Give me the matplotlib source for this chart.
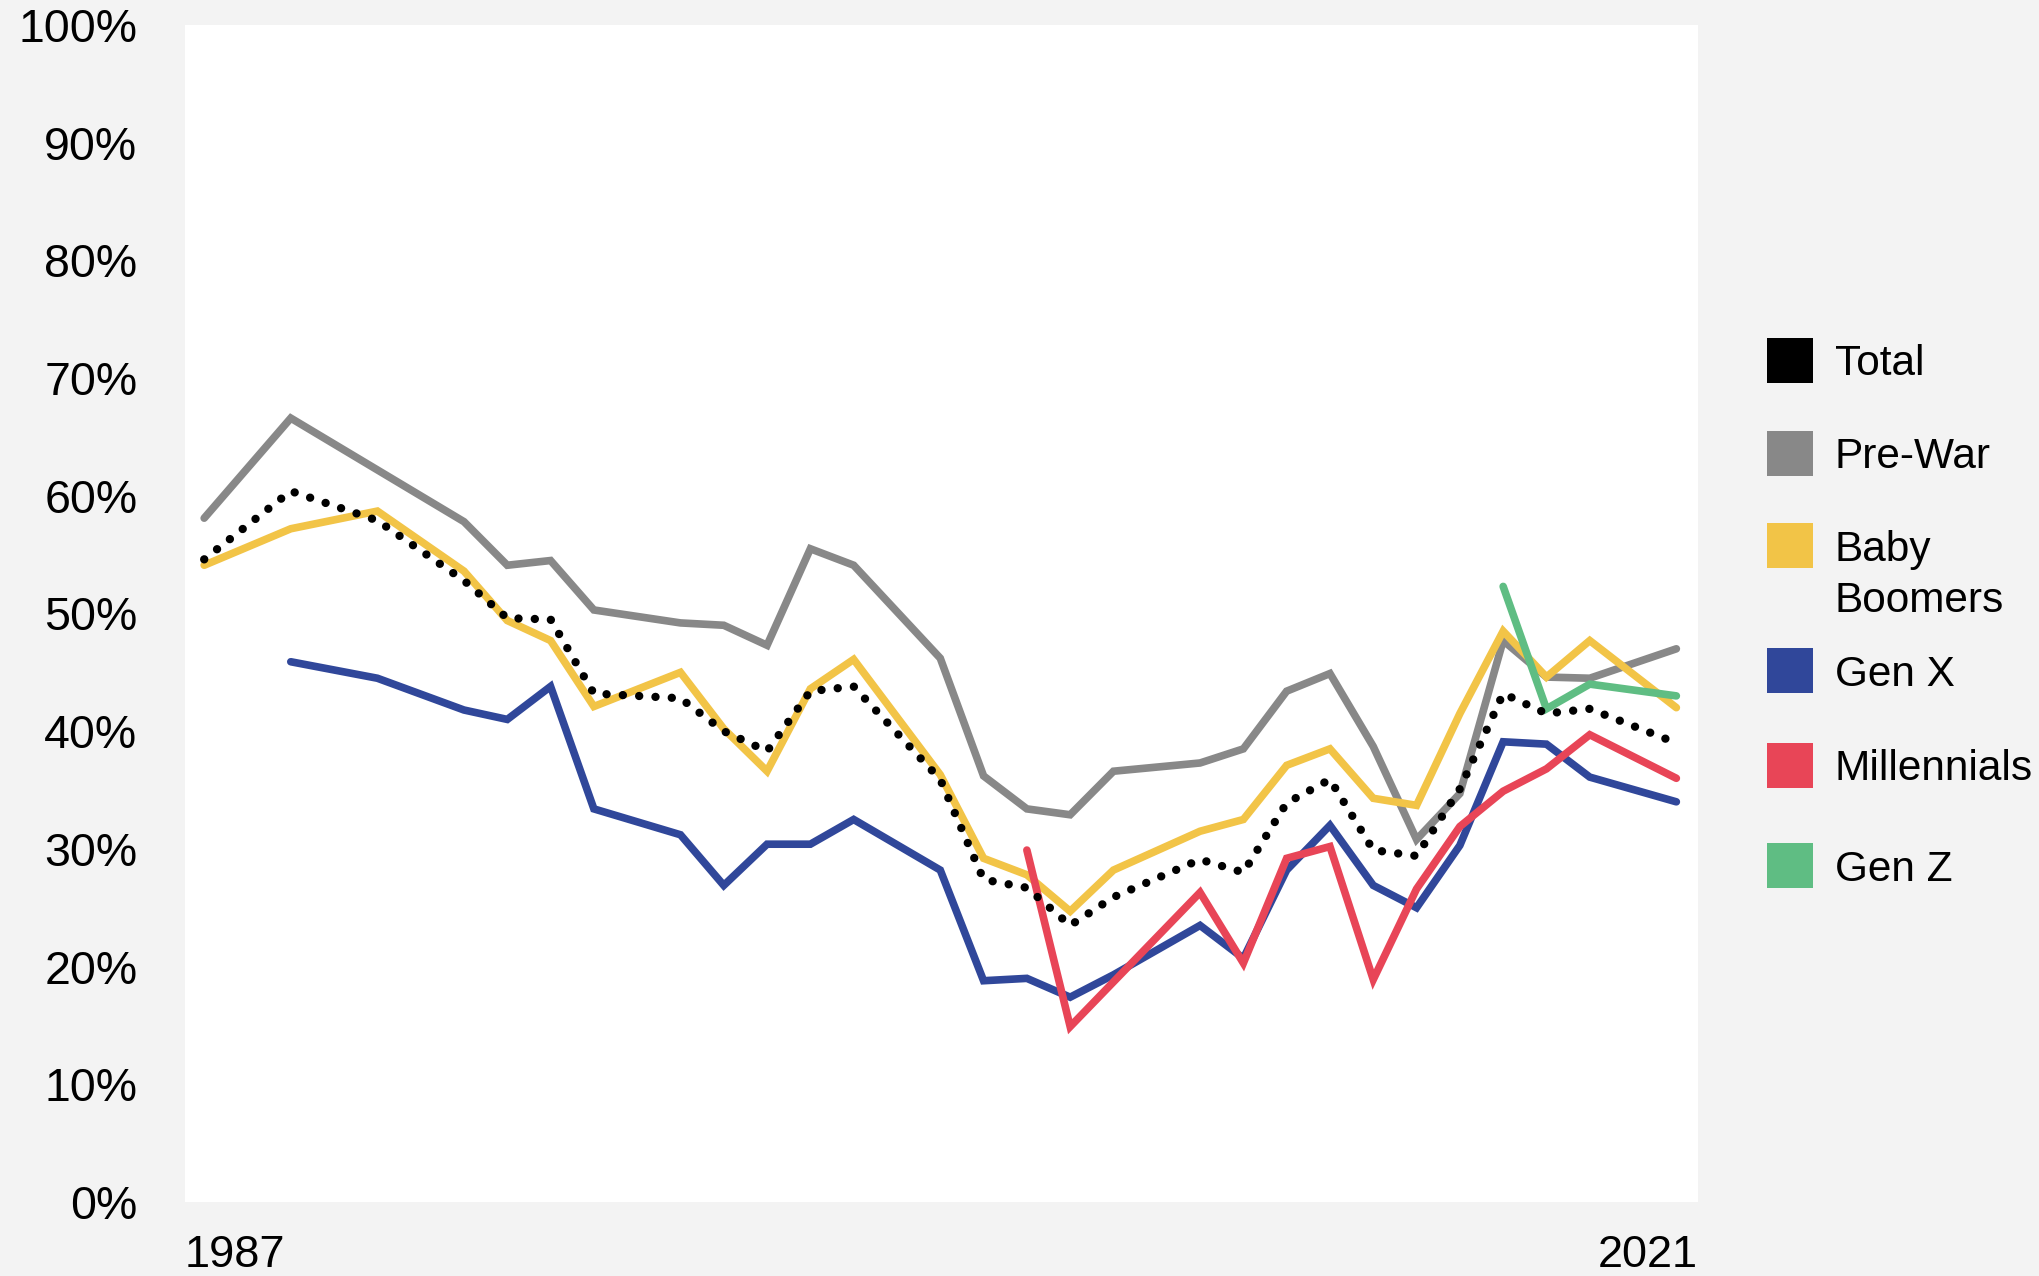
import numpy as np
import matplotlib
matplotlib.use("Agg")
from matplotlib import pyplot as plt
from matplotlib.patches import Rectangle

plt.rcParams['font.family'] = ['Liberation Sans', 'DejaVu Sans']

# survey years with a vertex in the chart
years = [1987, 1989, 1991, 1993, 1994, 1995, 1996, 1998, 1999, 2000,
         2001, 2002, 2004, 2005, 2006, 2007, 2008, 2010, 2011, 2012,
         2013, 2014, 2015, 2016, 2017, 2018, 2019, 2021]

total = [54.6, 60.4, 57.9, 52.8, 49.6, 49.5, 43.2, 42.8, 40.0, 38.3,
         43.4, 43.8, 35.9, 27.4, 26.7, 23.5, 25.9, 29.1, 28.0, 33.9,
         35.9, 29.9, 29.4, 35.1, 43.2, 41.5, 41.9, 39.0]
pre_war = [58.1, 66.6, 62.2, 57.8, 54.1, 54.5, 50.3, 49.2, 49.0, 47.3,
           55.5, 54.1, 46.2, 36.2, 33.4, 32.9, 36.6, 37.3, 38.5, 43.4,
           44.9, 38.7, 30.8, 34.7, 47.7, 44.6, 44.5, 47.0]
boomers = [54.1, 57.2, 58.7, 53.6, 49.4, 47.7, 42.1, 45.0, 40.2, 36.6,
           43.6, 46.1, 36.3, 29.2, 27.8, 24.7, 28.2, 31.5, 32.5, 37.1,
           38.5, 34.3, 33.7, 41.5, 48.5, 44.6, 47.7, 42.0]
gen_x = [None, 45.9, 44.5, 41.8, 41.0, 43.8, 33.4, 31.2, 26.9, 30.4,
         30.4, 32.5, 28.2, 18.8, 19.0, 17.4, 19.3, 23.5, 20.7, 28.2,
         32.0, 26.9, 25.0, 30.3, 39.1, 38.9, 36.1, 34.0]
millennials = [None] * 14 + [29.9, 14.9, 18.7, 26.3, 20.3, 29.2,
                             30.2, 18.9, 26.6, 31.9, 34.9, 36.8, 39.7, 36.0]
gen_z = [None] * 24 + [52.3, 41.9, 44.0, 43.0]

labels = ["Total", "Pre-War", "Baby\nBoomers", "Gen X", "Millennials", "Gen Z"]
colors = ["#000000", "#888888", "#F2C447", "#30479A", "#E84557", "#5FBD83"]

def arr(v):
    return np.array([np.nan if x is None else x for x in v], dtype=float)

fig = plt.figure(figsize=(20.39, 12.76), dpi=100, facecolor="#F3F3F3")
ax = fig.add_axes([184.7 / 2039, 1 - 1202 / 1276, (1698 - 184.7) / 2039, (1202 - 25) / 1276])
ax.set_facecolor("white")

lw = 5.5
for ser, col in [(pre_war, colors[1]), (boomers, colors[2]), (gen_x, colors[3]),
                 (millennials, colors[4]), (gen_z, colors[5])]:
    ax.plot(years, arr(ser), color=col, lw=lw, solid_joinstyle="miter", solid_capstyle="round")
ax.plot(years, arr(total), color=colors[0], lw=6.0, linestyle=(0, (0.01, 1.95)),
        dash_capstyle="round")

x0, x1 = 1986.55, 2021.5
ax.set_xlim(x0, x1)
ax.set_ylim(0, 100)
for s in ax.spines.values():
    s.set_visible(False)

ax.set_yticks(range(0, 101, 10))
ax.set_yticklabels([f"{v}%" for v in range(0, 101, 10)])
ax.tick_params(axis="y", length=0, pad=34, labelsize=33.5)
ax.set_xticks([x0, x1])
ax.set_xticklabels(["1987", "2021"])
ax.tick_params(axis="x", length=0, pad=24, labelsize=32.5)
xl = ax.get_xticklabels()
xl[0].set_ha("left")
xl[1].set_ha("right")

# legend drawn by hand: squares + labels
centers = [360, 453, 545.7, 670.7, 765, 865.7]
for lab, col, yc in zip(labels, colors, centers):
    fig.add_artist(Rectangle((1767 / 2039, 1 - (yc + 22.5) / 1276), 46 / 2039, 45 / 1276,
                             transform=fig.transFigure, facecolor=col, edgecolor="none"))
    if "\n" in lab:
        fig.text(1835 / 2039, 1 - (yc + 30) / 1276, lab, fontsize=30.5, va="center",
                 ha="left", linespacing=1.35)
    else:
        fig.text(1835 / 2039, 1 - (yc + 4) / 1276, lab, fontsize=30.5, va="center", ha="left")

fig.savefig("out.png", dpi=100, facecolor=fig.get_facecolor())
